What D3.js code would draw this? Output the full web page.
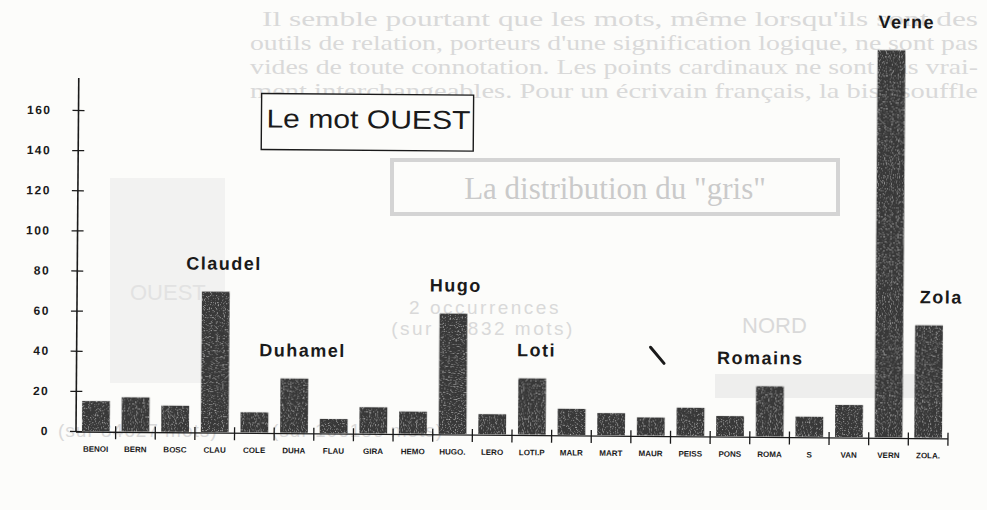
<!DOCTYPE html>
<html>
<head>
<meta charset="utf-8">
<script src="https://cdn.jsdelivr.net/npm/d3@7"></script>
<style>
  html, body { margin: 0; padding: 0; background: #fcfcfa; }
  svg { display: block; font-family: "Liberation Sans", Arial, sans-serif; }
</style>
</head>
<body>
<svg id="chart" width="987" height="510"></svg>
<script>
// occurrences of the word "ouest", per author
const categories = ['BENOI','BERN','BOSC','CLAU','COLE','DUHA','FLAU','GIRA','HEMO','HUGO.','LERO','LOTI.P','MALR','MART','MAUR','PEISS','PONS','ROMA','S','VAN','VERN','ZOLA.'];
const counts     = [15, 17, 13, 70, 10, 27, 7, 13, 11, 60, 10, 28, 13, 11, 9, 14, 10, 25, 10, 16, 193, 56];
const yTicks     = [0, 20, 40, 60, 80, 100, 120, 140, 160];
const callouts   = [['CLAU','Claudel',8], ['DUHA','Duhamel',8], ['HUGO.','Hugo',2], ['LOTI.P','Loti',4],
                    ['ROMA','Romains',-10], ['VERN','Verne',15], ['ZOLA.','Zola',12]];
const title = 'Le mot OUEST';
// text of the facing page that shows through the scan
const showThrough = [
  'Il semble pourtant que les mots, même lorsqu\'ils sont des',
  'outils de relation, porteurs d\'une signification logique, ne sont pas',
  'vides de toute connotation. Les points cardinaux ne sont pas vrai-',
  'ment interchangeables. Pour un écrivain français, la bise souffle'
];

const svg = d3.select('#chart');
const W = 987, H = 510;

// light scan grain for the bars
const defs = svg.append('defs');
const f = defs.append('filter').attr('id', 'grain').attr('x', 0).attr('y', 0).attr('width', 1).attr('height', 1);
f.append('feTurbulence').attr('type', 'fractalNoise').attr('baseFrequency', 0.85).attr('numOctaves', 1).attr('seed', 4).attr('result', 'n');
f.append('feColorMatrix').attr('in', 'n').attr('type', 'matrix')
  .attr('values', '0 0 0 0 0.6  0 0 0 0 0.6  0 0 0 0 0.6  2.6 0 0 0 -1.45').attr('result', 'w');
f.append('feComposite').attr('in', 'w').attr('in2', 'SourceGraphic').attr('operator', 'in').attr('result', 'ws');
const fm = f.append('feMerge');
fm.append('feMergeNode').attr('in', 'SourceGraphic');
fm.append('feMergeNode').attr('in', 'ws');

svg.append('rect').attr('width', W).attr('height', H).attr('fill', '#fcfcfa');

// faint show-through layer
const ghost = svg.append('g').attr('fill', '#d9d9d9');
ghost.append('rect').attr('x', 110).attr('y', 178).attr('width', 115).attr('height', 205).attr('fill', '#f2f2f1');
ghost.append('rect').attr('x', 715).attr('y', 374).attr('width', 215).attr('height', 24).attr('fill', '#eeeeed');
ghost.selectAll('text.para').data(showThrough).join('text')
  .attr('x', (d, i) => i === 0 ? 262 : 250).attr('y', (d, i) => 26 + i * 24)
  .attr('textLength', (d, i) => i === 0 ? 716 : 728).attr('lengthAdjust', 'spacingAndGlyphs')
  .style('font-family', '"Liberation Serif", "DejaVu Serif", serif').style('font-size', '21px')
  .text(d => d);
ghost.append('rect').attr('x', 392).attr('y', 160).attr('width', 446).attr('height', 54)
  .attr('fill', 'none').attr('stroke', '#d4d4d4').attr('stroke-width', 4);
ghost.append('text').attr('x', 615).attr('y', 199).attr('text-anchor', 'middle')
  .style('font-family', '"Liberation Serif", serif').style('font-size', '31px').attr('fill', '#cacaca')
  .text('La distribution du "gris"');
ghost.append('text').attr('x', 130).attr('y', 300).style('font-size', '22px').attr('fill', '#e2e2e2').text('OUEST');
ghost.append('text').attr('x', 485).attr('y', 314).attr('text-anchor', 'middle').style('font-size', '19px').attr('letter-spacing', '2.5px').text('2  occurrences');
ghost.append('text').attr('x', 483).attr('y', 335).attr('text-anchor', 'middle').style('font-size', '19px').attr('letter-spacing', '2.5px').text('(sur  54832 mots)');
ghost.append('text').attr('x', 742).attr('y', 333).style('font-size', '22px').text('NORD');
ghost.append('text').attr('x', 58).attr('y', 437).style('font-size', '19px').attr('letter-spacing', '1px').text('(sur 84627 mots)');
ghost.append('text').attr('x', 272).attr('y', 437).style('font-size', '19px').attr('letter-spacing', '1px').text('(sur 106186 mots)');

// chart group: the scanned page is slightly rotated
const x0 = 76, x1 = 948, base = 431;
const g = svg.append('g').attr('transform', `rotate(0.45, ${x0}, ${base})`);

const x = d3.scaleBand().domain(categories).range([x0, x1]).paddingInner(0.3).paddingOuter(0.15);
const y = d3.scaleLinear().domain([0, 160]).range([base, 110]);
const step = x.step();

g.selectAll('rect.bar').data(categories).join('rect')
  .attr('class', 'bar')
  .attr('x', d => x(d))
  .attr('y', (d, i) => y(counts[i]))
  .attr('width', x.bandwidth())
  .attr('height', (d, i) => y(0) - y(counts[i]))
  .attr('fill', '#393939')
  .attr('filter', 'url(#grain)');

// y axis
const yAxis = g.append('g').attr('transform', `translate(${x0},0)`)
  .call(d3.axisLeft(y).tickValues(yTicks).tickSizeInner(6).tickSizeOuter(0).tickPadding(21));
yAxis.select('.domain').remove();
yAxis.selectAll('.tick line').attr('x1', -6).attr('x2', 6).attr('stroke', '#1a1a1a').attr('stroke-width', 1.3);
yAxis.selectAll('.tick text').attr('fill', '#1a1a1a')
  .style('font-size', '12px').style('font-weight', 'bold').attr('letter-spacing', '1.5px');
g.append('line').attr('x1', x0).attr('x2', x0).attr('y1', y(0) + 1).attr('y2', y(176))
  .attr('stroke', '#1a1a1a').attr('stroke-width', 1.6);

// x axis
const xAxis = g.append('g').attr('transform', `translate(0,${base})`)
  .call(d3.axisBottom(x).tickSize(0).tickPadding(15));
xAxis.select('.domain').remove();
xAxis.selectAll('.tick text').attr('fill', '#1a1a1a')
  .style('font-size', '8px').style('font-weight', 'bold');
g.append('line').attr('x1', x0).attr('x2', x1).attr('y1', base + 1).attr('y2', base + 1)
  .attr('stroke', '#1a1a1a').attr('stroke-width', 1.4);
g.selectAll('line.sep').data(categories).join('line')
  .attr('class', 'sep')
  .attr('x1', d => x(d) - x.paddingOuter() * step + step).attr('x2', d => x(d) - x.paddingOuter() * step + step)
  .attr('y1', base - 5).attr('y2', base + 8)
  .attr('stroke', '#1a1a1a').attr('stroke-width', 1.3);

// author call-outs
g.selectAll('text.callout').data(callouts).join('text')
  .attr('class', 'callout')
  .attr('x', d => x(d[0]) + x.bandwidth() / 2 + d[2])
  .attr('y', d => y(counts[categories.indexOf(d[0])]) - 22)
  .attr('text-anchor', 'middle')
  .attr('fill', '#1a1a1a')
  .style('font-size', '18px').style('font-weight', 'bold').attr('letter-spacing', '1.5px')
  .text(d => d[1]);

// stray pen mark near MAUR / PEISS
g.append('line').attr('x1', x('MAUR') + 13).attr('y1', y(44)).attr('x2', x('PEISS') - 13).attr('y2', y(36))
  .attr('stroke', '#1a1a1a').attr('stroke-width', 3).attr('stroke-linecap', 'round');

// title box
g.append('rect').attr('x', 259).attr('y', 92).attr('width', 212).attr('height', 56)
  .attr('fill', '#fcfcfa').attr('stroke', '#1a1a1a').attr('stroke-width', 1.4);
g.append('text').attr('x', 264).attr('y', 126)
  .attr('textLength', 204).attr('lengthAdjust', 'spacingAndGlyphs')
  .attr('fill', '#1a1a1a').style('font-size', '26px')
  .text(title);
</script>
</body>
</html>
